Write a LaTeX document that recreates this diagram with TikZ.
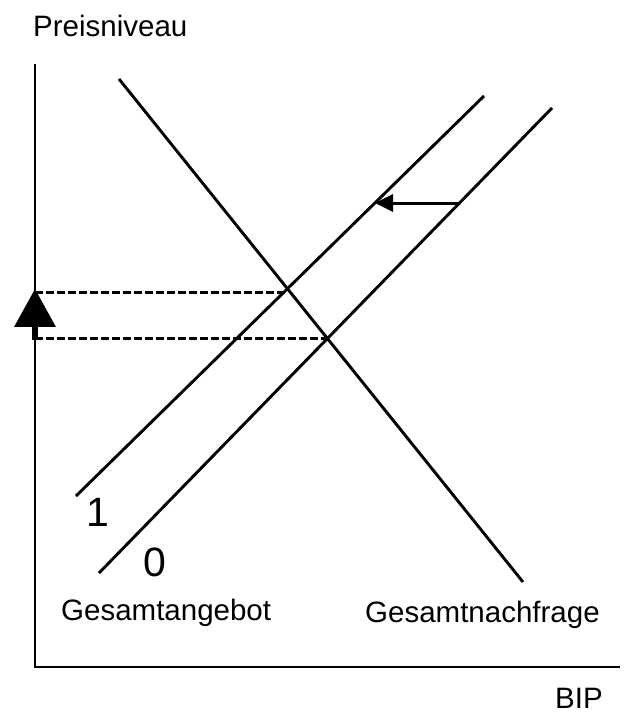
\documentclass[tikz,border=0pt]{standalone}
\usepackage{fontspec}
\setmainfont{Liberation Sans}
\usetikzlibrary{arrows.meta}
\begin{document}
\begin{tikzpicture}[x=1pt,y=-1pt,
  curve/.style={line width=2.9pt},
  axisline/.style={line width=2pt},
  guide/.style={line width=3.2pt, dash pattern=on 7.5pt off 3.5pt},
  lbl/.style={anchor=base west, inner sep=0pt, font=\fontsize{29.5}{29.5}\selectfont},
  num/.style={anchor=center, inner sep=0pt, font=\fontsize{41}{41}\selectfont}]
\useasboundingbox (0,0) rectangle (624,717);
% axes
\coordinate (ytop) at (35,64);
\coordinate (orig) at (35,667);
\coordinate (xend) at (620,667);
\draw[axisline] (ytop) -- (orig) -- (xend);
% curves
\coordinate (d1) at (119,79);  \coordinate (d2) at (523,582);
\coordinate (s0a) at (99,573); \coordinate (s0b) at (552,108);
\coordinate (s1a) at (76,496); \coordinate (s1b) at (484,96);
\draw[curve] (d1) -- (d2);
\draw[curve] (s0a) -- (s0b);
\draw[curve] (s1a) -- (s1b);
% equilibria
\coordinate (e1) at (intersection of d1--d2 and s1a--s1b);
\coordinate (e0) at (intersection of d1--d2 and s0a--s0b);
\coordinate (y1) at (orig |- e1);
\coordinate (y0) at (orig |- e0);
\draw[guide] ([yshift=-4pt]y1) -- ([yshift=-4pt]e1);
\draw[guide] (y0) -- (e0);
% price arrow
\draw[line width=6pt, -{Triangle[length=38pt,width=40pt]}] ([yshift=-1pt]y0) -- (y1);
% shift arrow
\coordinate (ha) at (459,203);
\coordinate (hb) at (375,203);
\draw[line width=3pt, -{Triangle[length=18pt,width=17pt]}] (ha) -- (hb);
% labels
\node[lbl] (pn) at (33,37) {Preisniveau};
\node[lbl] (ga) at (61,620) {Gesamtangebot};
\node[lbl] (gn) at (365,622) {Gesamtnachfrage};
\node[lbl] (bip) at (555,708) {BIP};
\node[num] (n1) at (98,512) {1};
\node[num] (n0) at (155,562) {0};
\end{tikzpicture}
\end{document}
